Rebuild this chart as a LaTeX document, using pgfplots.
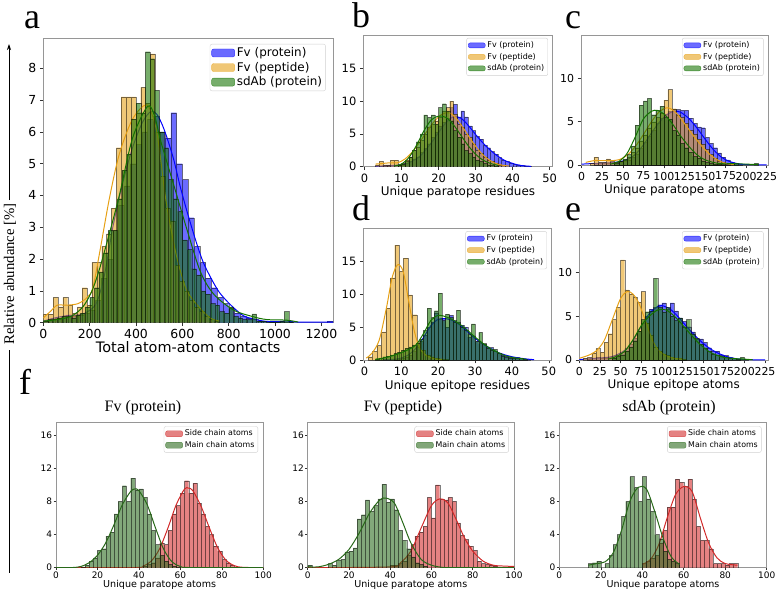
\documentclass[border=0pt]{standalone}
\usepackage{pgfplots}
\pgfplotsset{compat=1.18}
\usepackage{fontspec}
\setmainfont{Liberation Serif}
\newfontfamily\dv{DejaVu Sans}
\usetikzlibrary{arrows.meta}
\definecolor{cb}{RGB}{0,0,255}
\definecolor{co}{RGB}{230,160,20}
\definecolor{cg}{RGB}{20,115,0}
\definecolor{cr}{RGB}{210,40,40}
\definecolor{cgf}{RGB}{40,105,25}
\definecolor{spine}{RGB}{150,150,150}
\newcommand{\fs}[1]{\fontsize{#1}{#1}\selectfont}
\tikzset{lg/.style={fill=#1, fill opacity=0.58, draw=#1, draw opacity=0.7, line width=0.4pt}}
\pgfplotsset{
  panel/.style={scale only axis, anchor=south west, ymin=0,
    axis line style={spine, line width=0.7pt},
    tick style={black!80, line width=0.5pt}, tick align=outside, major tick length=3.5pt,
    xtick pos=bottom, ytick pos=left,
    /pgf/number format/assume math mode=true,
    /pgf/number format/1000 sep={},
    legend cell align=left,
    legend style={draw=black!18, rounded corners=2pt, fill=white, inner sep=1.5pt, anchor=north east},
  },
  hb/.style={ybar interval, forget plot, fill=#1, fill opacity=0.58, draw=black, draw opacity=0.5, line width=0.25pt},
  kd/.style={forget plot, smooth, draw=#1, line width=1pt, mark=none},
}
\begin{document}
\begin{tikzpicture}
\path[use as bounding box] (0,0) rectangle (776bp,-591bp);
% ---------------- panel a
\begin{axis}[panel, at={(43.3bp,-322.7bp)}, width=289.7bp, height=284.4bp,
  xmin=0, xmax=1250, ymax=8.94, xtick={0,200,...,1200}, ytick={0,1,...,8},
  tick label style={font=\dv\fs{12.5}},
  xlabel={Total atom-atom contacts}, xlabel style={font=\dv\fs{14.5}, inner sep=1pt, yshift=2pt},
  legend style={at={(0.975,0.98)}, font=\dv\fs{12}},
  legend image code/.code={\draw[#1] (0bp,-4bp) rectangle (23bp,4bp);}]
\addplot[hb=cb] coordinates {(0,0.05)(25,0.1)(50,0.15)(75,0.2)(100,0.25)(125,0.2)(150,0.25)(175,0.3)(200,0.4)(225,0.7)(250,1.4)(275,2.0)(300,2.9)(325,3.7)(350,4.3)(375,5.0)(400,5.6)(425,6.0)(450,6.4)(475,6.5)(500,6.0)(525,5.8)(550,6.6)(575,5.0)(600,4.5)(625,3.3)(650,2.4)(675,1.9)(700,1.4)(725,1.1)(750,0.8)(775,0.6)(800,0.45)(825,0.3)(850,0.2)(875,0.15)(900,0.1)(925,0.05)(950,0.05)(975,0.02)(1000,0.03)(1025,0.02)(1050,0.02)(1075,0)(1100,0)(1125,0)(1150,0)(1175,0)(1200,0)(1225,0.05)(1250,0)};
\addplot[kd=cb] coordinates {(0,0.05)(50,0.15)(100,0.22)(150,0.24)(180,0.3)(228,0.6)(264,1.5)(300,3.0)(343,4.4)(385,5.5)(428,6.3)(464,6.64)(490,6.55)(520,6.1)(560,5.2)(590,4.3)(620,3.5)(657,2.6)(690,1.9)(728,1.34)(760,0.95)(800,0.62)(840,0.35)(871,0.19)(943,0.06)(1000,0.03)(1050,0.05)(1100,0.02)(1250,0.02)};
\addplot[hb=co] coordinates {(0,0.27)(21,0.27)(42,0.8)(63,0.5)(84,0.8)(105,0.55)(126,0.3)(147,0.5)(168,1.1)(189,0.55)(210,1.9)(231,1.9)(252,2.4)(273,2.8)(294,3.6)(315,5.5)(336,7.1)(357,7.1)(378,7.1)(399,6.6)(420,7.4)(441,6.9)(462,8.45)(483,6.0)(504,4.6)(525,3.6)(546,3.2)(567,1.8)(588,1.3)(609,1.0)(630,0.7)(651,0.5)(672,0.35)(693,0.2)(714,0.1)(735,0.05)(756,0)};
\addplot[kd=co] coordinates {(0,0.15)(30,0.35)(60,0.55)(100,0.55)(150,0.6)(190,0.8)(214,1.1)(243,2.2)(285,3.9)(328,5.3)(385,6.4)(445,6.85)(480,6.3)(500,5.5)(528,3.9)(560,2.6)(585,1.8)(620,1.0)(671,0.5)(720,0.15)(760,0.05)};
\addplot[hb=cg] coordinates {(0,0.05)(20,0.1)(40,0.1)(60,0.15)(80,0.2)(100,0.2)(120,0.15)(140,0.25)(160,0.3)(180,0.5)(200,0.8)(220,1.1)(240,1.6)(260,2.2)(280,2.9)(300,2.9)(320,3.9)(340,4.8)(360,5.3)(380,6.4)(400,6.9)(420,6.6)(440,8.52)(460,8.3)(480,7.3)(500,6.0)(520,5.5)(540,4.5)(560,3.9)(580,3.5)(600,2.6)(620,2.3)(640,1.7)(660,1.5)(680,1.0)(700,0.9)(720,0.6)(740,0.55)(760,0.35)(780,0.3)(800,0.5)(820,0.2)(840,0.15)(860,0.1)(880,0.1)(900,0.28)(920,0.05)(940,0.05)(960,0.03)(980,0.03)(1000,0.03)(1020,0.05)(1040,0.35)(1060,0.03)(1080,0)};
\addplot[kd=cg] coordinates {(0,0.05)(60,0.1)(120,0.2)(171,0.5)(210,1.0)(243,1.7)(285,2.8)(328,4.0)(385,5.8)(450,6.8)(480,6.5)(507,5.7)(564,4.3)(621,2.9)(678,1.6)(735,0.9)(820,0.4)(900,0.2)(963,0.1)(1050,0.08)(1100,0.02)};
\addlegendimage{lg=cb}\addlegendentry{Fv (protein)}
\addlegendimage{lg=co}\addlegendentry{Fv (peptide)}
\addlegendimage{lg=cg}\addlegendentry{sdAb (protein)}
\end{axis}
% ---------------- panel b
\begin{axis}[panel, at={(363.3bp,-166.7bp)}, width=189.4bp, height=131.7bp,
  xmin=-0.3, xmax=50.8, ymax=20.05, xtick={0,10,...,50}, ytick={0,5,10,15},
  tick label style={font=\dv\fs{11.5}},
  xlabel={Unique paratope residues}, xlabel style={font=\dv\fs{12}, inner sep=1pt},
  legend style={at={(0.975,0.978)}, font=\dv\fs{8}},
  legend image code/.code={\draw[#1] (0bp,-2.5bp) rectangle (17bp,2.5bp);}]
\addplot[hb=cb] coordinates {(4,0.1)(5,0.1)(6,0.1)(7,0.2)(8,0.2)(9,0.2)(10,0.3)(11,0.5)(12,0.8)(13,1.2)(14,1.5)(15,2.2)(16,2.8)(17,3.5)(18,4.5)(19,5.3)(20,6.2)(21,6.8)(22,7.4)(23,9.0)(24,9.5)(25,7.6)(26,8.5)(27,7.6)(28,6.2)(29,5.5)(30,4.6)(31,4.2)(32,3.3)(33,2.9)(34,2.3)(35,1.9)(36,1.4)(37,1.0)(38,0.8)(39,0.6)(40,0.4)(41,0.3)(42,0.2)(43,0.1)(44,0.05)(45,0)};
\addplot[kd=cb] coordinates {(3,0.05)(6,0.15)(9,0.25)(12,0.6)(15,1.6)(18,3.6)(20,5.2)(22,6.7)(24,7.6)(26,7.4)(28,6.3)(30,4.9)(32,3.6)(34,2.5)(36,1.6)(38,0.9)(40,0.5)(42,0.2)(45,0.05)};
\addplot[hb=co] coordinates {(3,0.3)(4,0.8)(5,0.3)(6,0.3)(7,1.0)(8,1.0)(9,0.3)(10,0.5)(11,1.0)(12,1.5)(13,2.5)(14,3.0)(15,4.0)(16,5.0)(17,6.0)(18,6.5)(19,7.0)(20,7.5)(21,8.5)(22,9.0)(23,10.0)(24,8.0)(25,6.5)(26,6.0)(27,5.0)(28,4.5)(29,3.5)(30,2.5)(31,2.0)(32,1.5)(33,1.0)(34,0.8)(35,0.5)(36,0.3)(37,0.2)(38,0)};
\addplot[kd=co] coordinates {(3,0.4)(5,0.5)(7,0.6)(9,0.6)(11,1.2)(13,2.3)(15,3.8)(17,5.5)(19,7.0)(21,8.0)(23,8.2)(25,7.2)(27,5.6)(29,3.9)(31,2.4)(33,1.3)(35,0.6)(37,0.25)(39,0.1)};
\addplot[hb=cg] coordinates {(9,0.2)(10,0.4)(11,0.8)(12,1.5)(13,2.5)(14,3.8)(15,5.0)(16,7.9)(17,7.5)(18,7.9)(19,6.5)(20,9.0)(21,9.6)(22,8.5)(23,7.0)(24,5.5)(25,4.5)(26,3.5)(27,2.5)(28,2.0)(29,1.5)(30,1.0)(31,0.8)(32,0.5)(33,0.3)(34,0.2)(35,0.1)(36,0)};
\addplot[kd=cg] coordinates {(8,0.1)(10,0.4)(12,1.4)(14,3.2)(16,5.4)(18,7.1)(20,7.7)(22,7.5)(24,6.4)(26,4.8)(28,3.2)(30,1.9)(32,1.0)(34,0.5)(36,0.2)};
\addlegendimage{lg=cb}\addlegendentry{Fv (protein)}
\addlegendimage{lg=co}\addlegendentry{Fv (peptide)}
\addlegendimage{lg=cg}\addlegendentry{sdAb (protein)}
\end{axis}
% ---------------- panel c
\begin{axis}[panel, at={(581bp,-165bp)}, width=187.3bp, height=130bp,
  xmin=-0.8, xmax=227, ymax=15, xtick={0,25,...,225}, ytick={0,5,10},
  tick label style={font=\dv\fs{11}},
  xlabel={Unique paratope atoms}, xlabel style={font=\dv\fs{12}, inner sep=1pt},
  legend style={at={(0.975,0.978)}, font=\dv\fs{8}},
  legend image code/.code={\draw[#1] (0bp,-2.5bp) rectangle (17bp,2.5bp);}]
\addplot[hb=cb] coordinates {(15,0.2)(20,0.2)(25,0.2)(30,0.2)(35,0.2)(40,0.3)(45,0.3)(50,0.4)(55,0.6)(60,0.9)(65,1.3)(70,1.9)(75,2.6)(80,3.3)(85,4.0)(90,4.8)(95,5.4)(100,5.9)(105,6.2)(110,6.4)(115,6.4)(120,6.3)(125,6.3)(130,5.4)(135,4.8)(140,4.4)(145,4.3)(150,3.2)(155,2.5)(160,2.0)(165,1.4)(170,0.9)(175,0.6)(180,0.3)(185,0.2)(190,0.1)(195,0)};
\addplot[kd=cb] coordinates {(0,0.1)(20,0.2)(40,0.3)(55,0.6)(65,1.2)(75,2.3)(85,3.7)(95,5.0)(105,5.9)(113,6.2)(120,6.1)(130,5.4)(140,4.3)(150,3.0)(160,1.8)(170,0.9)(180,0.4)(190,0.15)(200,0.05)(225,0.02)};
\addplot[hb=co] coordinates {(10,0.2)(15,0.9)(20,0.3)(25,0.3)(30,0.7)(35,0.4)(40,0.3)(45,0.4)(50,0.6)(55,0.9)(60,1.5)(65,2.0)(70,2.8)(75,3.5)(80,4.3)(85,5.0)(90,5.5)(95,6.0)(100,7.5)(105,8.7)(110,6.5)(115,5.8)(120,5.5)(125,4.8)(130,4.0)(135,3.6)(140,3.0)(145,2.4)(150,1.8)(155,1.2)(160,0.8)(165,0.5)(170,0.3)(175,0.1)(180,0)};
\addplot[kd=co] coordinates {(5,0.3)(15,0.5)(25,0.5)(35,0.5)(45,0.6)(55,1.1)(65,2.1)(75,3.5)(85,5.0)(95,6.2)(105,6.6)(115,6.0)(125,4.8)(135,3.5)(145,2.3)(155,1.3)(165,0.6)(175,0.2)(185,0.05)};
\addplot[hb=cg] coordinates {(40,0.2)(45,0.4)(50,0.7)(55,1.2)(60,2.2)(65,4.6)(70,6.9)(75,7.4)(80,7.7)(85,5.8)(90,6.3)(95,6.8)(100,5.5)(105,5.3)(110,4.0)(115,3.5)(120,2.5)(125,2.0)(130,1.5)(135,1.0)(140,0.8)(145,0.5)(150,0.3)(155,0.2)(160,0.1)(165,0.1)(170,0.05)(175,0)(180,0)(185,0.2)(190,0)(195,0)(200,0)(205,0)(210,0.2)(215,0)};
\addplot[kd=cg] coordinates {(35,0.1)(45,0.4)(55,1.3)(65,3.2)(75,5.3)(85,6.2)(92,6.3)(100,5.9)(110,4.8)(120,3.4)(130,2.2)(140,1.2)(150,0.6)(160,0.3)(170,0.15)(185,0.15)(200,0.1)(215,0.05)};
\addlegendimage{lg=cb}\addlegendentry{Fv (protein)}
\addlegendimage{lg=co}\addlegendentry{Fv (peptide)}
\addlegendimage{lg=cg}\addlegendentry{sdAb (protein)}
\end{axis}
% ---------------- panel d
\begin{axis}[panel, at={(363.3bp,-360bp)}, width=188.4bp, height=131.7bp,
  xmin=-0.3, xmax=50.8, ymax=20.05, xtick={0,10,...,50}, ytick={0,5,10,15},
  tick label style={font=\dv\fs{11.5}},
  xlabel={Unique epitope residues}, xlabel style={font=\dv\fs{12}, inner sep=1pt},
  legend style={at={(0.975,0.978)}, font=\dv\fs{8}},
  legend image code/.code={\draw[#1] (0bp,-2.5bp) rectangle (17bp,2.5bp);}]
\addplot[hb=cb] coordinates {(8,0.1)(9,0.2)(10,0.3)(11,0.5)(12,0.8)(13,1.3)(14,2.0)(15,2.8)(16,3.8)(17,5.0)(18,5.8)(19,7.2)(20,6.2)(21,6.3)(22,5.0)(23,6.8)(24,6.0)(25,5.8)(26,5.3)(27,5.0)(28,3.5)(29,3.7)(30,2.8)(31,2.5)(32,2.4)(33,2.0)(34,1.9)(35,1.4)(36,1.0)(37,0.8)(38,0.6)(39,0.5)(40,0.4)(41,0.4)(42,0.3)(43,0.2)(44,0.1)(45,0)};
\addplot[kd=cb] coordinates {(5,0.05)(8,0.1)(10,0.3)(12,0.8)(14,1.8)(16,3.4)(18,5.2)(20,6.2)(22,6.3)(24,6.0)(26,5.3)(28,4.3)(30,3.3)(32,2.5)(34,1.8)(36,1.2)(38,0.8)(40,0.5)(42,0.3)(44,0.15)(46,0.05)};
\addplot[hb=co] coordinates {(1.0,0.5)(2.2,1.3)(3.4,2.2)(4.6,4.3)(5.8,7.9)(7.0,12.5)(8.2,17.5)(9.4,13.5)(10.6,15.5)(11.8,9.9)(13.0,6.9)(14.2,2.8)(15.4,1.5)(16.6,0.8)(17.8,0.5)(19.0,0.3)(20.2,0.2)(21.4,0.1)(22.6,0)};
\addplot[kd=co] coordinates {(0.5,0.3)(2,1.0)(4,3.0)(6,8.0)(7.5,12.5)(9,14.5)(10.5,13.5)(12,9.0)(13.5,4.5)(15,1.8)(17,0.6)(19,0.2)(21,0.05)};
\addplot[hb=cg] coordinates {(3,0.2)(4,0.3)(5,0.5)(6,0.6)(7,0.8)(8,1.0)(9,1.2)(10,1.5)(11,1.8)(12,2.0)(13,2.3)(14,2.6)(15,3.2)(16,4.5)(17,7.9)(18,6.5)(19,7.5)(20,10.2)(21,6.0)(22,7.0)(23,6.5)(24,5.8)(25,7.6)(26,5.0)(27,4.5)(28,4.0)(29,5.5)(30,2.8)(31,4.2)(32,2.5)(33,1.8)(34,1.5)(35,1.6)(36,1.0)(37,0.6)(38,0.4)(39,0.3)(40,0.3)(41,0.3)(42,0.3)(43,0.1)(44,0)};
\addplot[kd=cg] coordinates {(3,0.1)(6,0.4)(9,0.9)(12,1.6)(14,2.3)(16,4.0)(18,6.0)(20,6.8)(22,6.6)(24,6.1)(26,5.4)(28,4.5)(30,3.5)(32,2.6)(34,1.8)(36,1.2)(38,0.7)(40,0.4)(42,0.25)(44,0.1)};
\addlegendimage{lg=cb}\addlegendentry{Fv (protein)}
\addlegendimage{lg=co}\addlegendentry{Fv (peptide)}
\addlegendimage{lg=cg}\addlegendentry{sdAb (protein)}
\end{axis}
% ---------------- panel e
\begin{axis}[panel, at={(579bp,-360bp)}, width=189.3bp, height=131.7bp,
  xmin=-0.4, xmax=229, ymax=15, xtick={0,25,...,225}, ytick={0,5,10},
  tick label style={font=\dv\fs{11}},
  xlabel={Unique epitope atoms}, xlabel style={font=\dv\fs{12}, inner sep=1pt},
  legend style={at={(0.975,0.978)}, font=\dv\fs{8}},
  legend image code/.code={\draw[#1] (0bp,-2.5bp) rectangle (17bp,2.5bp);}]
\addplot[hb=cb] coordinates {(10,0.1)(15,0.2)(20,0.3)(25,0.2)(30,0.2)(35,0.3)(40,0.4)(45,0.6)(50,0.9)(55,1.3)(60,1.8)(65,2.5)(70,3.3)(75,4.2)(80,5.0)(85,5.8)(90,6.0)(95,6.3)(100,6.5)(105,5.8)(110,6.5)(115,5.6)(120,4.8)(125,4.4)(130,3.8)(135,3.2)(140,2.4)(145,2.4)(150,2.0)(155,1.4)(160,1.0)(165,1.0)(170,0.6)(175,0.5)(180,0.3)(185,0.2)(190,0.1)(195,0)};
\addplot[kd=cb] coordinates {(0,0.05)(20,0.2)(40,0.4)(55,1.1)(65,2.2)(75,3.8)(85,5.3)(95,6.1)(100,6.2)(110,5.8)(120,4.9)(130,3.8)(140,2.8)(150,1.9)(160,1.2)(170,0.7)(180,0.35)(190,0.15)(200,0.05)(225,0.01)};
\addplot[hb=co] coordinates {(5,0.2)(10,0.3)(15,0.8)(20,1.3)(25,0.9)(30,2.0)(35,3.0)(40,4.6)(45,6.0)(50,11.4)(55,8.0)(60,7.5)(65,7.2)(70,6.6)(75,7.8)(80,4.2)(85,2.8)(90,1.5)(95,1.0)(100,0.7)(105,0.5)(110,0.3)(115,0.2)(120,0.2)(125,0.1)(130,0)};
\addplot[kd=co] coordinates {(0,0.2)(10,0.5)(20,1.0)(30,2.2)(40,4.6)(50,7.0)(58,7.8)(65,7.5)(72,6.5)(80,4.5)(88,2.4)(95,1.2)(105,0.5)(115,0.2)(125,0.1)};
\addplot[hb=cg] coordinates {(40,0.2)(45,0.4)(50,0.6)(55,1.0)(60,1.5)(65,2.2)(70,3.3)(75,4.6)(80,5.5)(85,5.6)(90,9.3)(95,6.0)(100,5.5)(105,6.0)(110,5.0)(115,4.5)(120,4.8)(125,3.8)(130,4.6)(135,3.0)(140,2.5)(145,1.8)(150,1.4)(155,1.0)(160,0.7)(165,0.6)(170,0.4)(175,0.3)(180,0.2)(185,0.2)(190,0.1)(195,0.3)(200,0.1)(205,0)};
\addplot[kd=cg] coordinates {(35,0.1)(45,0.4)(55,1.0)(65,2.3)(75,3.9)(85,5.0)(95,5.7)(105,5.7)(115,5.0)(125,4.0)(135,2.9)(145,1.9)(155,1.1)(165,0.6)(175,0.3)(190,0.15)(200,0.1)(210,0.03)};
\addlegendimage{lg=cb}\addlegendentry{Fv (protein)}
\addlegendimage{lg=co}\addlegendentry{Fv (peptide)}
\addlegendimage{lg=cg}\addlegendentry{sdAb (protein)}
\end{axis}
% ---------------- f panels common
\pgfplotsset{fpanel/.style={panel, height=145bp, xmin=0, xmax=100, ymax=17.5,
  xtick={0,20,...,100}, ytick={0,4,8,12,16}, major tick length=2.5pt,
  tick label style={font=\dv\fs{9}, inner sep=1.2pt},
  xlabel={Unique paratope atoms}, xlabel style={font=\dv\fs{9.6}, inner sep=0.5pt},
  legend style={at={(0.975,0.975)}, font=\dv\fs{7.9}},
  legend image code/.code={\draw[##1] (0bp,-3bp) rectangle (17bp,3bp);}}}
% ---------------- panel f1
\begin{axis}[fpanel, at={(56bp,-567.7bp)}, width=207.3bp]
\addplot[hb=cr] coordinates {(42,0.2)(44,0.4)(46,0.6)(48,1.2)(50,3.0)(52,2.8)(54,4.5)(56,6.5)(58,7.5)(60,9.0)(62,10.5)(64,9.0)(66,10.2)(68,7.8)(70,6.5)(72,5.0)(74,4.0)(76,2.6)(78,2.0)(80,1.0)(82,0.6)(84,0.3)(86,0.1)(88,0)};
\addplot[kd=cr] coordinates {(0,0)(38,0.02)(42,0.2)(46,0.8)(50,2.3)(54,4.8)(58,7.6)(62,9.5)(64,9.6)(66,9.3)(70,7.4)(74,4.8)(78,2.4)(82,0.9)(86,0.25)(90,0.05)(100,0)};
\addplot[hb=cgf] coordinates {(12,0.1)(14,0.3)(16,0.8)(18,1.2)(20,2.1)(22,2.3)(24,3.8)(26,4.3)(28,6.5)(30,8.0)(32,9.9)(34,8.0)(36,10.8)(38,9.4)(40,9.5)(42,8.5)(44,6.5)(46,4.5)(48,2.8)(50,1.5)(52,0.8)(54,0.4)(56,0.2)(58,0.1)(60,0)};
\addplot[kd=cgf] coordinates {(0,0)(8,0.02)(12,0.15)(16,0.6)(20,1.5)(24,3.0)(28,5.2)(32,7.6)(36,9.2)(38,9.5)(40,9.3)(44,7.6)(48,4.8)(52,2.2)(56,0.7)(60,0.15)(65,0.02)(100,0)};
\addlegendimage{lg=cr}\addlegendentry{Side chain atoms}
\addlegendimage{lg=cgf}\addlegendentry{Main chain atoms}
\end{axis}
% ---------------- panel f2
\begin{axis}[fpanel, at={(307.7bp,-567.7bp)}, width=206.3bp]
\addplot[hb=cr] coordinates {(40,0.3)(42,0.3)(44,0.5)(46,0.8)(48,1.5)(50,2.8)(52,3.8)(54,4.3)(56,5.0)(58,8.5)(60,6.0)(62,10.0)(64,8.3)(66,8.2)(68,8.5)(70,8.0)(72,5.4)(74,3.9)(76,3.4)(78,2.6)(80,2.1)(82,0.8)(84,0.5)(86,0.4)(88,0.3)(90,0.2)(92,0.1)(94,0)(96,0)(98,0.2)(100,0)};
\addplot[kd=cr] coordinates {(0,0)(40,0.1)(45,0.6)(50,2.0)(55,4.8)(60,7.5)(64,8.3)(68,7.8)(72,5.8)(76,3.6)(80,2.0)(85,0.8)(90,0.3)(95,0.2)(100,0.15)};
\addplot[hb=cgf] coordinates {(0,0.3)(2,0)(4,0)(6,0)(8,0)(10,0.5)(12,0.3)(14,0.9)(16,1.0)(18,1.9)(20,2.0)(22,2.4)(24,5.9)(26,6.4)(28,8.2)(30,6.8)(32,7.5)(34,8.3)(36,10.1)(38,7.9)(40,8.3)(42,7.0)(44,4.5)(46,3.3)(48,2.3)(50,1.3)(52,0.6)(54,0.4)(56,0.2)(58,0)};
\addplot[kd=cgf] coordinates {(0,0.1)(5,0.1)(10,0.4)(15,1.0)(20,2.2)(25,4.2)(30,6.6)(35,8.2)(38,8.4)(42,7.8)(46,5.5)(50,3.0)(55,1.0)(60,0.3)(65,0.05)(70,0)(100,0)};
\addlegendimage{lg=cr}\addlegendentry{Side chain atoms}
\addlegendimage{lg=cgf}\addlegendentry{Main chain atoms}
\end{axis}
% ---------------- panel f3
\begin{axis}[fpanel, at={(559.3bp,-567.7bp)}, width=207.4bp]
\addplot[hb=cr] coordinates {(40,0.5)(42,0.8)(44,1.2)(46,1.5)(48,3.0)(50,4.5)(52,7.3)(54,7.3)(56,10.7)(58,10.3)(60,9.8)(62,10.7)(64,8.3)(66,5.0)(68,3.3)(70,3.3)(72,2.3)(74,0.5)(76,0.5)(78,0.5)(80,0.3)(82,0.5)(84,0.5)(86,0)};
\addplot[kd=cr] coordinates {(40,0.4)(44,1.0)(48,2.8)(52,6.0)(56,8.8)(60,9.8)(64,9.2)(68,6.0)(72,3.0)(76,1.2)(80,0.5)(86,0.3)};
\addplot[hb=cgf] coordinates {(14,0.5)(16,0.6)(18,0.8)(20,0)(22,0.5)(24,1.5)(26,2.8)(28,4.0)(30,6.2)(32,8.0)(34,11.0)(36,9.7)(38,8.0)(40,11.0)(42,8.3)(44,6.8)(46,4.0)(48,3.5)(50,2.0)(52,1.0)(54,0.8)(56,0.5)(58,0)};
\addplot[kd=cgf] coordinates {(14,0.3)(18,0.5)(22,0.7)(26,1.8)(30,4.5)(34,8.0)(38,9.7)(42,9.5)(46,6.8)(50,3.6)(54,1.3)(58,0.4)};
\addlegendimage{lg=cr}\addlegendentry{Side chain atoms}
\addlegendimage{lg=cgf}\addlegendentry{Main chain atoms}
\end{axis}
% ---------------- text
\node[anchor=base west, font=\fs{36}, inner sep=0] at (24bp,-28bp) {a};
\node[anchor=base west, font=\fs{36}, inner sep=0] at (352bp,-27bp) {b};
\node[anchor=base west, font=\fs{36}, inner sep=0] at (565bp,-28bp) {c};
\node[anchor=base west, font=\fs{36}, inner sep=0] at (352bp,-220bp) {d};
\node[anchor=base west, font=\fs{36}, inner sep=0] at (565bp,-220bp) {e};
\node[anchor=base west, font=\fs{36}, inner sep=0] at (19bp,-394bp) {f};
\node[font=\fs{16}] at (143bp,-408bp) {Fv (protein)};
\node[font=\fs{16}] at (403bp,-408bp) {Fv (peptide)};
\node[font=\fs{16}] at (669bp,-408bp) {sdAb (protein)};
\node[rotate=90, font=\fs{14.8}] at (10bp,-274bp) {Relative abundance [\%]};
\draw[line width=0.8pt, -{Stealth[length=6pt,width=4pt]}] (9bp,-200bp) -- (9bp,-44bp);
\draw[line width=0.8pt] (9bp,-350bp) -- (9bp,-573bp);
\end{tikzpicture}
\end{document}
